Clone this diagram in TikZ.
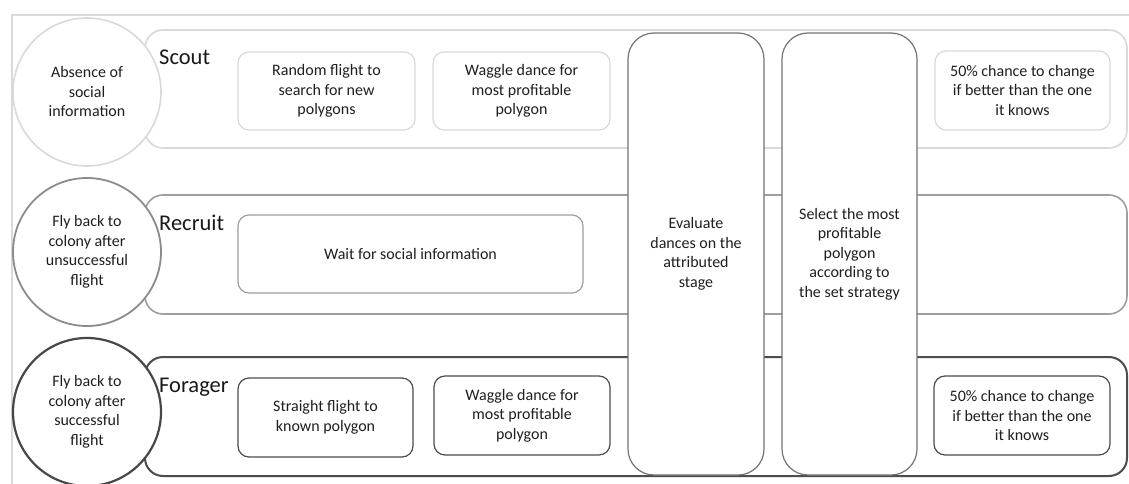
\documentclass[tikz,border=0pt]{standalone}
\usepackage{fontspec}
\setmainfont{Carlito}
\begin{document}
\begin{tikzpicture}[x=1pt,y=-1pt,
  txt/.style={text=black!88, font=\fontsize{16}{19.5}\selectfont, align=center},
  lane/.style={draw, rounded corners=18pt, line width=1.6pt, fill=white, inner sep=0pt},
  box/.style={draw, rounded corners=11pt, line width=1.2pt, fill=white, inner sep=0pt, txt},
  tall/.style={draw=black!55, rounded corners=26pt, line width=1.2pt, fill=white, inner sep=0pt, txt,
     minimum height=442pt},
  circ/.style={draw, circle, fill=white, minimum size=148pt, inner sep=0pt, txt},
  title/.style={anchor=base west, text=black!90, font=\fontsize{22.5}{26}\selectfont, inner sep=0pt}
]
\useasboundingbox (0,0) rectangle (1129,484);
\fill[white] (0,0) rectangle (1129,484);
\coordinate (fa) at (12,484);
\coordinate (fb) at (12,15);
\coordinate (fc) at (1129,15);
\draw[black!15, line width=2pt] (fa) -- (fb) -- (fc);

% lanes
\node[lane, draw=black!15, minimum width=982pt, minimum height=118pt] (scoutlane) at (636,89) {};
\node[lane, draw=black!38, minimum width=982pt, minimum height=119pt] (recruitlane) at (636,254.5) {};
\node[lane, draw=black!70, line width=2pt, minimum width=982pt, minimum height=119pt] (foragerlane) at (636,416.5) {};

% titles
\node[title] (scoutt) at (159,65) {Scout};
\node[title] (recruitt) at (159,230) {Recruit};
\node[title] (foragert) at (159,392) {Forager};

% inner boxes
\node[box, draw=black!15, minimum width=177pt, minimum height=78pt] (rand) at (326.5,91) {Random flight to\\search for new\\polygons};
\node[box, draw=black!15, minimum width=177pt, minimum height=78pt] (wag1) at (521.5,91) {Waggle dance for\\most profitable\\polygon};
\node[box, draw=black!15, minimum width=175pt, minimum height=79pt] (ch1) at (1022.5,90.5) {50\% chance to change\\if better than the one\\it knows};
\node[box, draw=black!38, minimum width=345pt, minimum height=78pt] (wait) at (410.5,254) {Wait for social information};
\node[box, draw=black!70, minimum width=175pt, minimum height=79pt] (straight) at (325.5,417.5) {Straight flight to\\known polygon};
\node[box, draw=black!70, minimum width=176pt, minimum height=79pt] (wag2) at (522,415.5) {Waggle dance for\\most profitable\\polygon};
\node[box, draw=black!70, minimum width=176pt, minimum height=79pt] (ch2) at (1022,415.5) {50\% chance to change\\if better than the one\\it knows};

% tall boxes
\node[tall, minimum width=136pt] (eval) at (696,254) {Evaluate\\dances on the\\attributed\\stage};
\node[tall, minimum width=135pt] (sel) at (849.5,254) {Select the most\\profitable\\polygon\\according to\\the set strategy};

% circles
\node[circ, draw=black!15, line width=1.6pt] (c1) at (87,92) {Absence of\\social\\information};
\node[circ, draw=black!45, line width=1.8pt] (c2) at (87,252) {Fly back to\\colony after\\unsuccessful\\flight};
\node[circ, draw=black!72, line width=2.2pt] (c3) at (87,412) {Fly back to\\colony after\\successful\\flight};
\end{tikzpicture}
\end{document}
